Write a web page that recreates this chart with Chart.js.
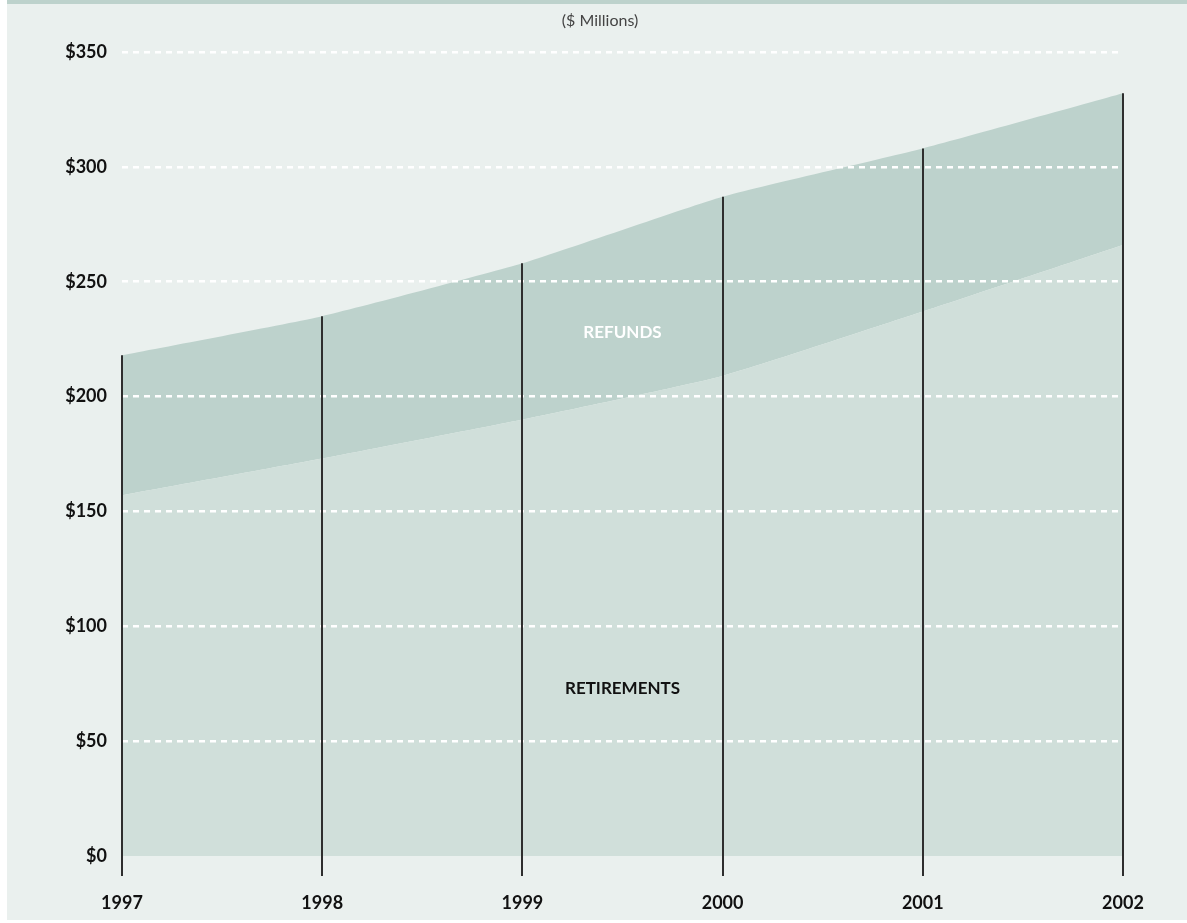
<!DOCTYPE html>
<html>
<head>
<meta charset="utf-8">
<script src="https://cdn.jsdelivr.net/npm/chart.js@4"></script>
<style>
  html, body { margin: 0; padding: 0; background: #ffffff; }
  #panel {
    position: absolute; left: 7px; top: 0; width: 1180px; height: 920px;
    background: #eaf0ee; border-top: 4px solid #bdd2cc; box-sizing: border-box;
  }
  #wrap { position: absolute; left: 7px; top: 0; width: 1180px; height: 920px; }
</style>
</head>
<body>
<div id="panel"></div>
<div id="wrap"><canvas id="myChart" width="1180" height="920"></canvas></div>
<script>
// 年ごとのデータ（$ Millions）
const years = ['1997', '1998', '1999', '2000', '2001', '2002'];
const retirements = [157, 173, 190, 209, 237, 266];
const refunds = [61, 62, 68, 78, 71, 66];
const yTicks = [0, 50, 100, 150, 200, 250, 300, 350];

const totals = retirements.map((v, i) => v + refunds[i]);

// 縦線・ラベル・単位を描くプラグイン
const extras = {
    id: 'extras',
    afterDraw(chart) {
        const ctx = chart.ctx;
        const x = chart.scales.x;
        const y = chart.scales.y;
        ctx.save();
        ctx.strokeStyle = '#2e2e2e';
        ctx.lineWidth = 2;
        totals.forEach((t, i) => {
            const px = Math.round(x.getPixelForValue(i));
            ctx.beginPath();
            ctx.moveTo(px, y.getPixelForValue(0) + 20);
            ctx.lineTo(px, y.getPixelForValue(t));
            ctx.stroke();
        });

        const mid = (x.getPixelForValue(2) + x.getPixelForValue(3)) / 2;
        ctx.textAlign = 'center';
        ctx.textBaseline = 'middle';
        ctx.font = 'bold 17px Lato';
        ctx.fillStyle = '#ffffff';
        ctx.fillText('REFUNDS', mid, y.getPixelForValue(228));
        ctx.fillStyle = '#111111';
        ctx.fillText('RETIREMENTS', mid, y.getPixelForValue(73));
        ctx.font = '16px Lato';
        ctx.fillStyle = '#444444';
        ctx.fillText('($ Millions)', 593, 21);
        ctx.restore();
    }
};

const ctx = document.getElementById('myChart').getContext('2d');
new Chart(ctx, {
    type: 'line',
    data: {
        labels: years,
        datasets: [
            {
                label: 'Retirements',
                data: retirements,
                fill: 'origin',
                backgroundColor: '#d0dfda',
                borderWidth: 0,
                pointRadius: 0,
                tension: 0.15
            },
            {
                label: 'Refunds',
                data: refunds,
                fill: '-1',
                backgroundColor: '#bdd2cc',
                borderWidth: 0,
                pointRadius: 0,
                tension: 0.15
            }
        ]
    },
    options: {
        responsive: false,
        animation: false,
        layout: { padding: { top: 52, right: 64, left: 0, bottom: 0 } },
        plugins: {
            legend: { display: false },
            tooltip: { enabled: false }
        },
        scales: {
            x: {
                grid: { display: false },
                border: { display: false },
                ticks: {
                    padding: 28,
                    color: '#111111',
                    font: { family: 'Lato', weight: 'bold', size: 18 },
                    maxRotation: 0,
                    autoSkip: false
                },
                afterFit(s) { s.height = 64; }
            },
            y: {
                stacked: true,
                min: 0,
                max: 350,
                border: { display: false, dash: [6, 5] },
                grid: {
                    z: 1,
                    drawTicks: false,
                    lineWidth: 2.5,
                    color: c => c.tick && c.tick.value === 0 ? 'rgba(0,0,0,0)' : '#ffffff'
                },
                afterBuildTicks(s) { s.ticks = yTicks.map(v => ({ value: v })); },
                ticks: {
                    padding: 15,
                    color: '#111111',
                    font: { family: 'Lato', weight: 'bold', size: 18 },
                    callback: v => '$' + v
                },
                afterFit(s) { s.width = 115; }
            }
        }
    },
    plugins: [extras]
});
</script>
</body>
</html>
